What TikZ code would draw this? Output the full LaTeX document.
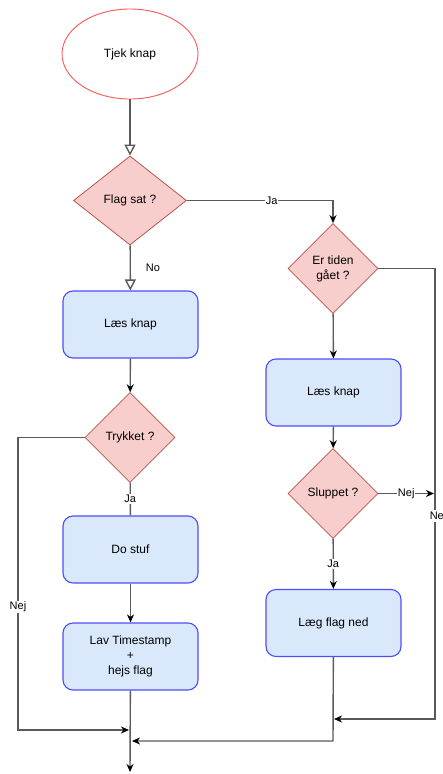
\documentclass[tikz,border=0pt]{standalone}
\usepackage{fontspec}
\setmainfont{Liberation Sans}
\usetikzlibrary{shapes.geometric,arrows.meta}
\definecolor{dfill}{HTML}{F8CECC}
\definecolor{ddraw}{HTML}{B85450}
\definecolor{bfill}{HTML}{DAE8FC}
\definecolor{bdraw}{HTML}{4D4DFF}
\definecolor{sdraw}{HTML}{FF5555}
\definecolor{ln}{HTML}{5A5A5A}
\begin{document}
\begin{tikzpicture}[x=1pt,y=-1pt,
  every node/.style={font=\fontsize{12}{15}\selectfont},
  dec/.style={diamond,draw=ddraw,fill=dfill,line width=0.8pt,minimum width=90pt,minimum height=90pt,inner sep=0pt,align=center},
  proc/.style={rectangle,rounded corners=10pt,draw=bdraw,fill=bfill,line width=1.1pt,minimum width=135pt,minimum height=67pt,align=center},
  startnode/.style={ellipse,draw=sdraw,fill=white,line width=0.9pt,minimum width=136pt,minimum height=90pt},
  plainline/.style={draw=ln,line width=1.4pt},
  conn/.style={plainline,-{Stealth[color=black,length=8pt,width=7pt,inset=2.5pt]}},
  openarr/.style={plainline,-{Triangle[open,fill=white,length=11pt,width=11pt]}},
  lbl/.style={fill=white,inner sep=1pt,font=\fontsize{11}{13}\selectfont}
]
\useasboundingbox (0,0) rectangle (442,774);

\node[startnode] (tjek) at (130,54) {Tjek knap};
\node[dec,minimum width=113pt,minimum height=89pt] (flag) at (130,200.5) {Flag sat ?};
\node[dec] (tid) at (333,268.5) {Er tiden\\gået ?};
\node[proc] (laes1) at (130.5,324.5) {Læs knap};
\node[dec] (tryk) at (130,437.5) {Trykket ?};
\node[proc] (do) at (130.5,549.5) {Do stuf};
\node[proc] (lav) at (130.5,656.5) {Lav Timestamp\\+\\hejs flag};
\node[proc] (laes2) at (333.5,392.5) {Læs knap};
\node[dec] (slup) at (333,493.5) {Sluppet ?};
\node[proc] (laeg) at (333.5,623) {Læg flag ned};

\coordinate (out) at (130,772);
\coordinate (j1) at (129,730);
\coordinate (j2) at (132,741);
\coordinate (k1) at (334,719);
\coordinate (c1) at (18,730);
\coordinate (c2) at (435,719);
\coordinate (c3) at (434,493.5);
\coordinate (c4) at (333,741);

\draw[openarr] (tjek) -- (flag);
\draw[openarr] (flag) -- node[midway,right=15pt,inner sep=0pt,font=\fontsize{11}{13}\selectfont]{No} (laes1);
\draw[conn] (flag.east) -| node[pos=0.29,lbl]{Ja} (tid.north);
\draw[conn] (laes1) -- (tryk);
\draw[plainline] (tryk) -- node[lbl]{Ja} (do);
\draw[conn] (do) -- (lav);
\draw[conn] (lav) -- (out);
\draw[conn] (tryk.west) -| node[pos=0.79,lbl]{Nej} (c1) -- (j1);

\draw[conn] (tid) -- (laes2);
\draw[conn] (laes2) -- (slup);
\draw[conn] (tid.east) -| node[pos=0.775,lbl,xshift=3pt]{Nej} (c2) -- (k1);
\draw[conn] (slup.east) -- node[lbl]{Nej} (c3);
\draw[conn] (slup) -- node[lbl]{Ja} (laeg);
\draw[conn] (laeg) -- (c4) -- (j2);
\end{tikzpicture}
\end{document}
